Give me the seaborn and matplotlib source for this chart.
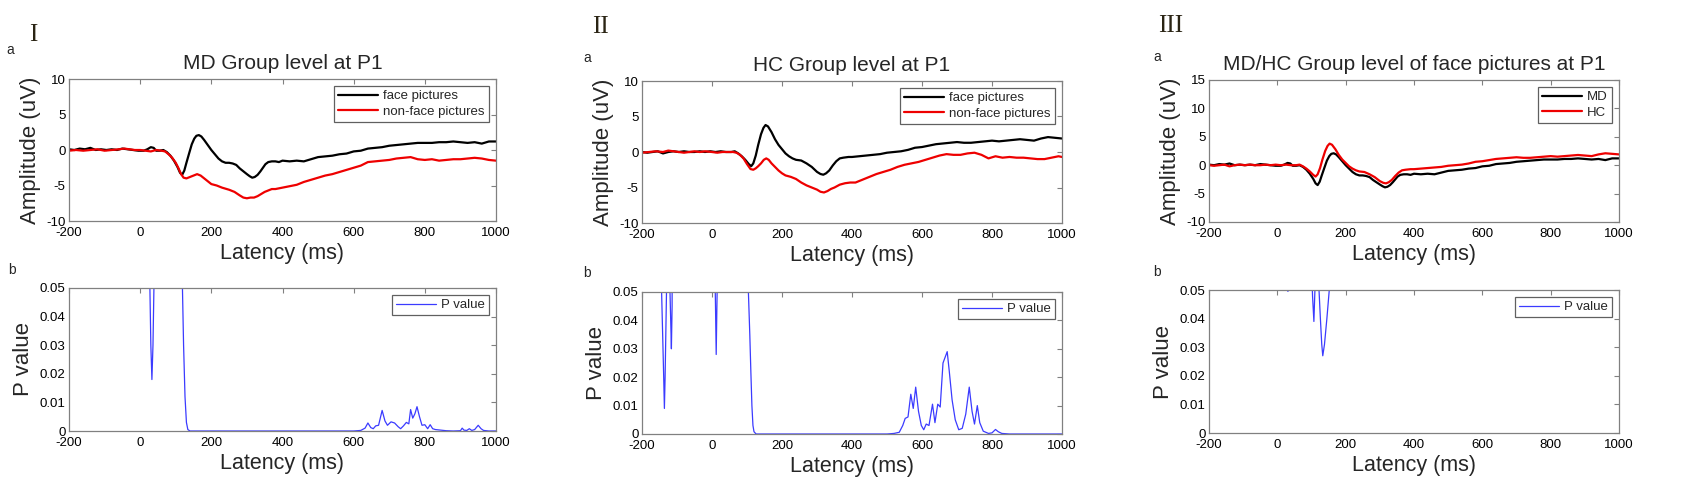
import seaborn as sns
import matplotlib
matplotlib.use('Agg')
import matplotlib.pyplot as plt

# ---- ERP waveforms (uV) ----
t_md_face = [-200, -185, -170, -155, -140, -125, -110, -95, -80, -65, -50, -35, -20, -5, 10, 20, 30, 38,
             45, 55, 65, 75, 85, 95, 105, 112, 118, 124, 130, 138, 145, 152, 158, 165, 172, 180, 190,
             200, 210, 220, 230, 240, 250, 260, 270, 280, 290, 300, 308, 315, 322, 330, 338, 345, 352,
             360, 370, 380, 390, 400, 420, 440, 460, 480, 500, 520, 540, 560, 580, 600, 620, 640, 660,
             680, 700, 720, 740, 760, 780, 800, 820, 840, 860, 880, 900, 920, 940, 960, 980, 1000]
v_md_face = [0.1, 0.0, 0.2, 0.1, 0.3, 0.0, 0.1, 0.0, 0.1, 0.0, 0.2, 0.1, 0.0, -0.1, -0.1, 0.1, 0.4, 0.3,
             -0.1, -0.1, 0.0, -0.3, -0.8, -1.5, -2.4, -3.2, -3.5, -2.9, -1.8, -0.4, 0.8, 1.6, 2.0, 2.1,
             1.9, 1.4, 0.7, 0.0, -0.6, -1.2, -1.6, -1.8, -1.8, -1.9, -2.1, -2.6, -3.0, -3.4, -3.7, -3.9,
             -3.8, -3.5, -3.0, -2.5, -2.0, -1.7, -1.6, -1.6, -1.7, -1.5, -1.6, -1.5, -1.6, -1.3, -1.0,
             -0.9, -0.8, -0.6, -0.5, -0.2, -0.1, 0.2, 0.3, 0.4, 0.6, 0.7, 0.8, 0.9, 1.0, 1.0, 1.0, 1.1,
             1.1, 1.2, 1.1, 1.0, 1.1, 0.9, 1.2, 1.2]

t_md_nonface = [-200, -180, -160, -140, -120, -100, -80, -60, -45, -30, -15, 0, 15, 30, 45, 60, 70, 80, 90,
                100, 108, 115, 122, 130, 140, 150, 160, 170, 180, 190, 200, 215, 230, 250, 265, 280, 290,
                300, 310, 320, 330, 340, 350, 360, 370, 380, 390, 400, 420, 440, 460, 480, 500, 520, 540,
                560, 580, 600, 620, 640, 660, 680, 700, 720, 740, 760, 780, 800, 820, 840, 860, 880, 900,
                920, 940, 960, 980, 1000]
v_md_nonface = [-0.1, 0.0, -0.1, 0.0, 0.1, -0.1, 0.0, 0.1, 0.2, 0.1, 0.0, 0.0, -0.1, -0.2, 0.0, -0.1, -0.2,
                -0.6, -1.1, -1.8, -2.6, -3.4, -3.9, -4.0, -3.8, -3.6, -3.4, -3.6, -4.0, -4.4, -4.8, -5.0,
                -5.3, -5.6, -5.9, -6.4, -6.7, -6.8, -6.7, -6.7, -6.5, -6.2, -5.9, -5.7, -5.5, -5.5, -5.4,
                -5.3, -5.1, -4.9, -4.5, -4.2, -3.9, -3.6, -3.4, -3.1, -2.8, -2.5, -2.2, -1.7, -1.6, -1.5,
                -1.4, -1.2, -1.1, -1.0, -1.3, -1.4, -1.3, -1.5, -1.4, -1.3, -1.3, -1.2, -1.1, -1.2, -1.4,
                -1.5]

t_hc_face = [-200, -185, -170, -155, -140, -125, -110, -95, -80, -65, -50, -35, -20, -5, 10, 25, 40, 55, 65,
             75, 85, 95, 105, 112, 118, 125, 132, 140, 147, 153, 160, 170, 180, 190, 200, 210, 220, 230,
             240, 255, 270, 285, 300, 310, 318, 326, 335, 345, 355, 365, 375, 390, 400, 420, 440, 460,
             480, 500, 520, 540, 560, 580, 600, 620, 640, 660, 680, 700, 720, 740, 760, 780, 800, 820,
             840, 860, 880, 900, 920, 940, 960, 980, 1000]
v_hc_face = [0.0, -0.1, 0.0, 0.1, -0.2, 0.0, 0.1, 0.0, 0.1, 0.0, 0.0, 0.1, 0.0, 0.1, 0.0, 0.1, 0.0, 0.0, 0.1,
             -0.2, -0.6, -1.1, -1.7, -2.0, -1.6, -0.5, 1.0, 2.5, 3.4, 3.8, 3.6, 2.8, 1.8, 1.0, 0.4, -0.2,
             -0.6, -0.9, -1.1, -1.2, -1.6, -2.1, -2.8, -3.1, -3.2, -3.0, -2.6, -1.9, -1.3, -0.9, -0.8,
             -0.7, -0.7, -0.6, -0.5, -0.4, -0.3, -0.1, 0.0, 0.1, 0.3, 0.6, 0.7, 0.9, 1.1, 1.2, 1.3, 1.4,
             1.3, 1.3, 1.4, 1.5, 1.6, 1.5, 1.6, 1.7, 1.8, 1.7, 1.6, 1.9, 2.1, 2.0, 1.9]

t_hc_nonface = [-200, -180, -160, -140, -125, -110, -95, -80, -65, -50, -35, -20, 0, 15, 30, 45, 60, 70, 80,
                90, 100, 110, 118, 125, 132, 140, 148, 155, 162, 170, 180, 190, 200, 210, 225, 240, 255,
                270, 285, 300, 310, 320, 330, 340, 350, 365, 380, 395, 410, 430, 450, 470, 490, 510, 530,
                550, 570, 590, 610, 630, 650, 670, 690, 710, 730, 750, 770, 790, 810, 830, 850, 870, 890,
                910, 930, 950, 970, 990, 1000]
v_hc_nonface = [-0.1, 0.0, 0.1, 0.0, 0.2, 0.1, 0.0, -0.1, 0.0, 0.1, 0.0, 0.1, 0.0, -0.1, 0.0, 0.0, 0.0, -0.1,
                -0.4, -0.9, -1.7, -2.4, -2.5, -2.3, -2.0, -1.6, -1.1, -0.9, -1.1, -1.6, -2.1, -2.6, -3.0,
                -3.3, -3.5, -3.8, -4.3, -4.7, -5.0, -5.3, -5.6, -5.7, -5.5, -5.2, -5.0, -4.6, -4.4, -4.3,
                -4.3, -3.9, -3.5, -3.1, -2.8, -2.5, -2.1, -1.8, -1.6, -1.4, -1.1, -0.8, -0.5, -0.3, -0.4,
                -0.4, -0.2, -0.1, -0.4, -0.9, -0.6, -0.8, -0.7, -0.8, -0.8, -0.9, -1.0, -1.0, -0.8, -0.6,
                -0.7]

# ---- point-wise P values (values above 0.05 run off the top of the axes) ----
t_p_md = [-200, -100, 0, 20, 26, 30, 33, 36, 40, 46, 60, 100, 112, 118, 122, 126, 130, 134, 140, 200, 400,
          600, 620, 632, 640, 648, 655, 662, 670, 680, 688, 695, 705, 715, 725, 732, 740, 748, 755, 760,
          766, 772, 778, 785, 792, 800, 808, 815, 822, 830, 845, 860, 880, 900, 905, 910, 918, 925, 932,
          940, 950, 958, 965, 980, 1000]
p_md = [0.5, 0.6, 0.4, 0.2, 0.06, 0.03, 0.018, 0.03, 0.06, 0.2, 0.5, 0.3, 0.1, 0.055, 0.03, 0.012, 0.003,
        0.0005, 0.0, 0.0, 0.0, 0.0, 0.0002, 0.001, 0.0028, 0.0012, 0.0008, 0.0018, 0.002, 0.0072, 0.0035,
        0.002, 0.0032, 0.0028, 0.0015, 0.0008, 0.0018, 0.003, 0.0025, 0.0075, 0.0045, 0.006, 0.0085, 0.005,
        0.002, 0.0022, 0.0008, 0.0022, 0.0008, 0.0005, 0.0003, 0.0001, 0.0, 0.0001, 0.001, 0.0003, 0.0002,
        0.0008, 0.0002, 0.0005, 0.002, 0.0008, 0.0002, 0.0, 0.0]

t_p_hc = [-200, -160, -146, -142, -138, -136, -134, -130, -126, -122, -118, -116, -114, -110, -60, 0, 8,
          10, 12, 14, 16, 30, 80, 100, 104, 108, 111, 114, 117, 120, 126, 300, 500, 520, 535, 545, 552,
          560, 568, 575, 582, 590, 598, 605, 612, 620, 630, 637, 645, 652, 660, 666, 672, 678, 686, 695,
          705, 715, 725, 735, 743, 750, 758, 765, 775, 790, 800, 810, 818, 828, 850, 1000]
p_hc = [0.4, 0.3, 0.06, 0.04, 0.02, 0.009, 0.02, 0.05, 0.2, 0.06, 0.04, 0.03, 0.045, 0.3, 0.5, 0.3, 0.06,
        0.045, 0.028, 0.045, 0.06, 0.4, 0.3, 0.08, 0.05, 0.035, 0.022, 0.01, 0.003, 0.0008, 0.0, 0.0, 0.0,
        0.0002, 0.0006, 0.003, 0.0055, 0.006, 0.014, 0.009, 0.0165, 0.008, 0.003, 0.0015, 0.0035, 0.003,
        0.0105, 0.004, 0.0105, 0.0095, 0.025, 0.027, 0.029, 0.022, 0.012, 0.005, 0.0015, 0.002, 0.007,
        0.0165, 0.008, 0.0035, 0.01, 0.004, 0.001, 0.0002, 0.0004, 0.0016, 0.0008, 0.0002, 0.0, 0.0]

t_p_face = [-200, -100, 0, 28, 31, 34, 60, 90, 100, 103, 107, 110, 113, 118, 122, 126, 130, 133, 138, 145,
            152, 158, 200, 400, 600, 800, 1000]
p_face = [0.4, 0.5, 0.3, 0.06, 0.0495, 0.06, 0.4, 0.2, 0.06, 0.048, 0.039, 0.05, 0.07, 0.08, 0.05, 0.04,
          0.031, 0.027, 0.031, 0.04, 0.05, 0.08, 0.4, 0.5, 0.4, 0.5, 0.4]

x_ticks = [-200, 0, 200, 400, 600, 800, 1000]
amp_ticks_12 = [-10, -5, 0, 5, 10]
amp_ticks_3 = [-10, -5, 0, 5, 10, 15]
p_ticks = [0, 0.01, 0.02, 0.03, 0.04, 0.05]
p_tick_labels = ['0', '0.01', '0.02', '0.03', '0.04', '0.05']

titles = ['MD Group level at P1', 'HC Group level at P1', 'MD/HC Group level of face pictures at P1']
numerals = ['I', 'II', 'III']

sns.set_theme(style='white')
plt.rcParams['font.family'] = ['Liberation Sans', 'DejaVu Sans']
plt.rcParams['axes.unicode_minus'] = False

W, H = 1687, 490
fig = plt.figure(figsize=(W / 100, H / 100), dpi=100)
fig.patch.set_facecolor('white')


def px_axes(left, right, top, bottom):
    return fig.add_axes([left / W, 1 - bottom / H, (right - left) / W, (bottom - top) / H])


def style_axes(ax):
    for sp in ax.spines.values():
        sp.set_color('#808080')
        sp.set_linewidth(0.9)
    ax.tick_params(direction='in', length=3.5, width=0.8, color='#808080', top=True, right=True,
                   labelsize=9.5, labelcolor='black')
    ax.tick_params(axis='x', pad=4)
    ax.tick_params(axis='y', pad=2.5)
    ax.set_facecolor('white')


def style_legend(ax):
    leg = ax.legend(loc='upper right', fontsize=9.5, handlelength=3.0, handletextpad=0.4,
                    borderaxespad=0.55, fancybox=False, framealpha=1, edgecolor='#606060',
                    borderpad=0.3, labelspacing=0.25)
    leg.get_frame().set_linewidth(0.9)


top_boxes = [(69, 496, 79, 221), (642, 1062, 81, 223), (1209, 1619, 80, 222)]
bot_boxes = [(69, 496, 288, 431), (642, 1062, 292, 434), (1209, 1619, 290, 433)]

top_series = [
    [(t_md_face, v_md_face, 'black', 'face pictures'), (t_md_nonface, v_md_nonface, '#ee0000', 'non-face pictures')],
    [(t_hc_face, v_hc_face, 'black', 'face pictures'), (t_hc_nonface, v_hc_nonface, '#ee0000', 'non-face pictures')],
    [(t_md_face, v_md_face, 'black', 'MD'), (t_hc_face, v_hc_face, '#ee0000', 'HC')],
]
p_series = [(t_p_md, p_md), (t_p_hc, p_hc), (t_p_face, p_face)]

for i in range(3):
    ax = px_axes(*top_boxes[i])
    for t, v, c, lab in top_series[i]:
        sns.lineplot(x=t, y=v, ax=ax, color=c, linewidth=1.6, label=lab, errorbar=None)
    ax.set_xlim(-200, 1000)
    if i == 2:
        ax.set_ylim(-10, 15)
        ax.set_yticks(amp_ticks_3)
    else:
        ax.set_ylim(-10, 10)
        ax.set_yticks(amp_ticks_12)
    ax.set_xticks(x_ticks)
    style_axes(ax)
    ax.set_xlabel('Latency (ms)', fontsize=15.5, labelpad=3)
    ax.set_ylabel('Amplitude (uV)', fontsize=16, labelpad=4)
    ax.set_title(titles[i], fontsize=15, pad=7)
    style_legend(ax)

    axb = px_axes(*bot_boxes[i])
    t, p = p_series[i]
    sns.lineplot(x=t, y=p, ax=axb, color='#3b3bff', linewidth=0.9, label='P value', errorbar=None)
    axb.set_xlim(-200, 1000)
    axb.set_ylim(0, 0.05)
    axb.set_xticks(x_ticks)
    axb.set_yticks(p_ticks)
    axb.set_yticklabels(p_tick_labels)
    style_axes(axb)
    axb.set_xlabel('Latency (ms)', fontsize=15.5, labelpad=3)
    axb.set_ylabel('P value', fontsize=16, labelpad=4)
    style_legend(axb)

# panel letters and roman numerals
a_pos = [(10, 50), (587, 58), (1157, 57)]
b_pos = [(12, 270), (587, 273), (1157, 272)]
num_pos = [(33, 35), (600, 27), (1171, 26)]
for i in range(3):
    fig.text(a_pos[i][0] / W, 1 - a_pos[i][1] / H, 'a', fontsize=10, ha='center', va='center')
    fig.text(b_pos[i][0] / W, 1 - b_pos[i][1] / H, 'b', fontsize=10, ha='center', va='center')
    fig.text(num_pos[i][0] / W, 1 - num_pos[i][1] / H, numerals[i], fontsize=18, ha='center',
             va='center', family=['Liberation Serif', 'DejaVu Serif'], color='#2a2414')

fig.savefig('out.png', dpi=100, facecolor='white')
